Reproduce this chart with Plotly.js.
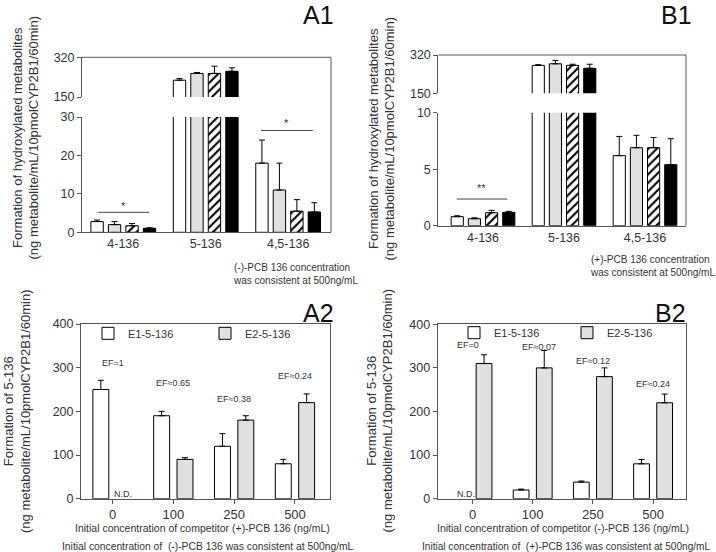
<!DOCTYPE html>
<html><head><meta charset="utf-8">
<script src="https://cdn.plot.ly/plotly-3.0.1.min.js"></script>
<style>html,body{margin:0;padding:0;background:#fff}#chart{width:716px;height:552px}</style>
</head><body><div id="chart"></div>
<script>
// ---------- DATA ----------
// Panel A1 / B1 : hydroxylated metabolites (4 competitor levels: white, gray, hatched, black)
const metCategories = ["4-136", "5-136", "4,5-136"];
const a1White = [2.8, 222, 18.0];   const a1WhiteErr = [0.4, 7, 6.0];
const a1Gray  = [2.0, 251, 11.0];   const a1GrayErr  = [0.8, 4, 7.0];
const a1Hatch = [1.7, 251, 5.5];    const a1HatchErr = [0.6, 31, 3.0];
const a1Black = [1.05, 260, 5.3];   const a1BlackErr = [0.1, 15, 2.4];

const b1White = [0.80, 274, 6.2];   const b1WhiteErr = [0.08, 3, 1.7];
const b1Gray  = [0.62, 281, 6.9];   const b1GrayErr  = [0.08, 15, 1.1];
const b1Hatch = [1.15, 274, 6.9];   const b1HatchErr = [0.21, 5, 0.9];
const b1Black = [1.18, 261, 5.4];   const b1BlackErr = [0.09, 18, 2.3];

// Panel A2 / B2 : formation of 5-136 enantiomers (null = N.D.)
const concCategories = ["0", "100", "250", "500"];
const a2E1 = [250, 190, 120, 80];   const a2E1Err = [21, 10, 29, 10];
const a2E2 = [null, 90, 180, 220];  const a2E2Err = [0, 4, 10, 20];
const b2E1 = [null, 20, 38, 80];    const b2E1Err = [0, 2, 2.5, 10];
const b2E2 = [310, 300, 280, 220];  const b2E2Err = [20, 40, 20, 20];

const a2EF = ["EF=1", "EF≈0.65", "EF≈0.38", "EF≈0.24"];
const b2EF = ["EF=0", "EF≈0.07", "EF≈0.12", "EF≈0.24"];

// ---------- HELPERS ----------
const W = 716, H = 552;
const px = v => v / W, py = v => 1 - v / H;
const FONT = 'Liberation Sans, Arial, sans-serif';
const TXT = '#333';
const AX = '#555';
const GRAY = '#e0e0e0';

function errY(arr) {
  return {type: 'data', symmetric: false, array: arr, arrayminus: arr.map(() => 0),
          color: '#000', thickness: 1, width: 3, visible: true};
}
const styles = {
  white: {color: '#fff', line: {color: '#000', width: 1}},
  gray:  {color: GRAY, line: {color: '#000', width: 1}},
  hatch: {color: '#fff', line: {color: '#000', width: 1},
          pattern: {shape: '/', fgcolor: '#000', bgcolor: '#fff', size: 6, solidity: 0.35}},
  black: {color: '#000', line: {color: '#000', width: 1}}
};
function bar(x, y, err, xa, ya, style, offset, width, opts) {
  return Object.assign({
    type: 'bar', x: x, y: y, xaxis: xa, yaxis: ya, marker: styles[style],
    error_y: errY(err), offset: offset, width: width, showlegend: false, hoverinfo: 'skip'
  }, opts || {});
}

const traces = [];
const metOffsets = [-0.393, -0.181, 0.031, 0.243], metW = 0.15;
const a1Sets = [[a1White, a1WhiteErr, 'white'], [a1Gray, a1GrayErr, 'gray'], [a1Hatch, a1HatchErr, 'hatch'], [a1Black, a1BlackErr, 'black']];
const b1Sets = [[b1White, b1WhiteErr, 'white'], [b1Gray, b1GrayErr, 'gray'], [b1Hatch, b1HatchErr, 'hatch'], [b1Black, b1BlackErr, 'black']];
['y', 'y2'].forEach(ya => a1Sets.forEach((s, i) => traces.push(bar(metCategories, s[0], s[1], 'x', ya, s[2], metOffsets[i], metW))));
['y3', 'y4'].forEach(ya => b1Sets.forEach((s, i) => traces.push(bar(metCategories, s[0], s[1], 'x2', ya, s[2], metOffsets[i], metW))));

const cW = 0.262, cOff = [-0.323, 0.061];
traces.push(bar(concCategories, a2E1, a2E1Err, 'x3', 'y5', 'white', cOff[0], cW, {name: 'E1-5-136', showlegend: true, legend: 'legend'}));
traces.push(bar(concCategories, a2E2, a2E2Err, 'x3', 'y5', 'gray', cOff[1], cW, {name: 'E2-5-136', showlegend: true, legend: 'legend'}));
traces.push(bar(concCategories, b2E1, b2E1Err, 'x4', 'y6', 'white', cOff[0], cW, {name: 'E1-5-136', showlegend: true, legend: 'legend2'}));
traces.push(bar(concCategories, b2E2, b2E2Err, 'x4', 'y6', 'gray', cOff[1], cW, {name: 'E2-5-136', showlegend: true, legend: 'legend2'}));

// ---------- AXES ----------
const tf = {family: FONT, size: 12.5, color: TXT};
function xax(d, anchor, range, ticks) {
  return {domain: d, anchor: anchor, type: 'category', range: range, showline: true, linecolor: AX, linewidth: 1,
          ticks: ticks ? 'outside' : '', ticklen: 4, tickcolor: AX, showgrid: false, zeroline: false,
          tickfont: {family: FONT, size: ticks ? 13 : 12.5, color: TXT}, fixedrange: true};
}
function yax(d, anchor, range, tv) {
  return {domain: d, anchor: anchor, range: range, tickvals: tv, showline: true, linecolor: AX, linewidth: 1,
          ticks: 'outside', ticklen: 4, tickcolor: AX, showgrid: false, zeroline: false, tickfont: tf, fixedrange: true};
}

const layout = {
  width: W, height: H, autosize: false,
  margin: {l: 0, r: 0, t: 0, b: 0},
  paper_bgcolor: '#fff', plot_bgcolor: 'rgba(0,0,0,0)',
  font: {family: FONT, color: TXT},
  barmode: 'overlay',
  xaxis:  xax([px(82), px(331)], 'y', [-0.501, 2.52], false),
  yaxis:  yax([py(232.3), py(117)], 'x', [0, 30], [0, 10, 20, 30]),
  yaxis2: yax([py(97), py(57.3)], 'x', [150, 320], [150, 320]),
  xaxis2: xax([px(438.3), px(686)], 'y3', [-0.552, 2.506], false),
  yaxis3: yax([py(225.7), py(112.7)], 'x2', [0, 10], [0, 5, 10]),
  yaxis4: yax([py(93.3), py(55)], 'x2', [150, 320], [150, 320]),
  xaxis3: xax([px(81), px(330)], 'y5', [-0.518, 3.576], true),
  yaxis5: Object.assign(yax([py(498.7), py(324)], 'x3', [0, 400], [0, 100, 200, 300, 400]), {mirror: true}),
  xaxis4: xax([px(437.7), px(686)], 'y6', [-0.578, 3.547], true),
  yaxis6: Object.assign(yax([py(498.7), py(324.3)], 'x4', [0, 400], [0, 100, 200, 300, 400]), {mirror: true}),
  legend: {x: px(88), y: py(333.3), xanchor: 'left', yanchor: 'middle', orientation: 'h',
           font: {family: FONT, size: 11, color: TXT}, bgcolor: 'rgba(0,0,0,0)',
           entrywidth: 72, entrywidthmode: 'pixels', itemwidth: 30, traceorder: 'normal'},
  legend2: {x: px(454), y: py(332.7), xanchor: 'left', yanchor: 'middle', orientation: 'h',
           font: {family: FONT, size: 11, color: TXT}, bgcolor: 'rgba(0,0,0,0)',
           entrywidth: 68, entrywidthmode: 'pixels', itemwidth: 30, traceorder: 'normal'},
  shapes: [],
  annotations: []
};
layout.xaxis3.mirror = true;
layout.xaxis4.mirror = true;

// frames of the broken-axis panels (top and right borders)
function line(x0, y0, x1, y1, xref, yref, color) {
  return {type: 'line', x0: x0, y0: y0, x1: x1, y1: y1, xref: xref || 'paper', yref: yref || 'paper',
          line: {color: color || AX, width: 1}, layer: 'above'};
}
layout.shapes.push(line(px(82), py(57.3), px(331), py(57.3)));
layout.shapes.push(line(px(331), py(57.3), px(331), py(232.3)));
layout.shapes.push(line(px(438.3), py(55), px(686), py(55)));
layout.shapes.push(line(px(686), py(55), px(686), py(225.7)));
// significance bars
layout.shapes.push(line(-0.31, 5.2, 0.315, 5.2, 'x', 'y', '#444'));
layout.shapes.push(line(1.67, 26.5, 2.30, 26.5, 'x', 'y', '#444'));
layout.shapes.push(line(-0.325, 2.36, 0.30, 2.36, 'x2', 'y3', '#444'));

function ann(x, y, text, size, extra) {
  return Object.assign({xref: 'paper', yref: 'paper', x: x, y: y, text: text, showarrow: false,
    font: {family: FONT, size: size, color: TXT}, xanchor: 'center', yanchor: 'middle'}, extra || {});
}
const A = layout.annotations;
// panel letters
A.push(ann(px(318.5), py(15), 'A1', 25, {font: {family: FONT, size: 25, color: '#111'}}));
A.push(ann(px(676), py(15), 'B1', 25, {font: {family: FONT, size: 25, color: '#111'}}));
A.push(ann(px(318.5), py(313), 'A2', 25, {font: {family: FONT, size: 25, color: '#111'}}));
A.push(ann(px(670), py(313), 'B2', 25, {font: {family: FONT, size: 25, color: '#111'}}));
// y titles
const yt1 = 'Formation of hydroxylated metabolites<br>(ng metabolite/mL/10pmolCYP2B1/60min)';
const yt2 = 'Formation of 5-136<br>(ng metabolite/mL/10pmolCYP2B1/60min)';
A.push(ann(px(25.5), py(138), yt1, 13, {textangle: -90}));
A.push(ann(px(381.5), py(138), yt1, 13, {textangle: -90}));
A.push(ann(px(17), py(411), yt2, 13, {textangle: -90}));
A.push(ann(px(379.5), py(411), yt2, 13, {textangle: -90}));
// notes
A.push(ann(px(231), py(274), '(-)-PCB 136 concentration<br>was consistent at 500ng/mL', 10, {xanchor: 'left', align: 'left'}));
A.push(ann(px(588), py(266), '(+)-PCB 136 concentration<br>was consistent at 500ng/mL', 10, {xanchor: 'left', align: 'left'}));
// x titles
A.push(ann(px(202), py(528.3), 'Initial concentration of competitor (+)-PCB 136 (ng/mL)', 10.5));
A.push(ann(px(208), py(546), 'Initial concentration of  (-)-PCB 136 was consistent at 500ng/mL', 10.3));
A.push(ann(px(563), py(528.3), 'Initial concentration of competitor (-)-PCB 136 (ng/mL)', 10.5));
A.push(ann(px(566), py(546), 'Initial concentration of  (+)-PCB 136 was consistent at 500ng/mL', 10.1));
// significance stars
A.push(ann(0, 6.8, '*', 11, {xref: 'x', yref: 'y'}));
A.push(ann(1.98, 28.4, '*', 11, {xref: 'x', yref: 'y'}));
A.push(ann(-0.02, 3.3, '**', 11, {xref: 'x2', yref: 'y3'}));
// EF labels
const a2EFy = [310, 266, 229, 281], a2EFx = [0, 1, 2, 3];
const b2EFy = [352, 349, 316, 262], b2EFx = [-0.08, 1.1, 2, 3];
a2EF.forEach((t, i) => A.push(ann(a2EFx[i], a2EFy[i], t, 9, {xref: 'x3', yref: 'y5'})));
b2EF.forEach((t, i) => A.push(ann(b2EFx[i], b2EFy[i], t, 9, {xref: 'x4', yref: 'y6'})));
A.push(ann(0.178, 10, 'N.D.', 9, {xref: 'x3', yref: 'y5'}));
A.push(ann(-0.108, 10, 'N.D.', 9, {xref: 'x4', yref: 'y6'}));

Plotly.newPlot('chart', traces, layout, {displayModeBar: false, staticPlot: true});
</script>
</body></html>
